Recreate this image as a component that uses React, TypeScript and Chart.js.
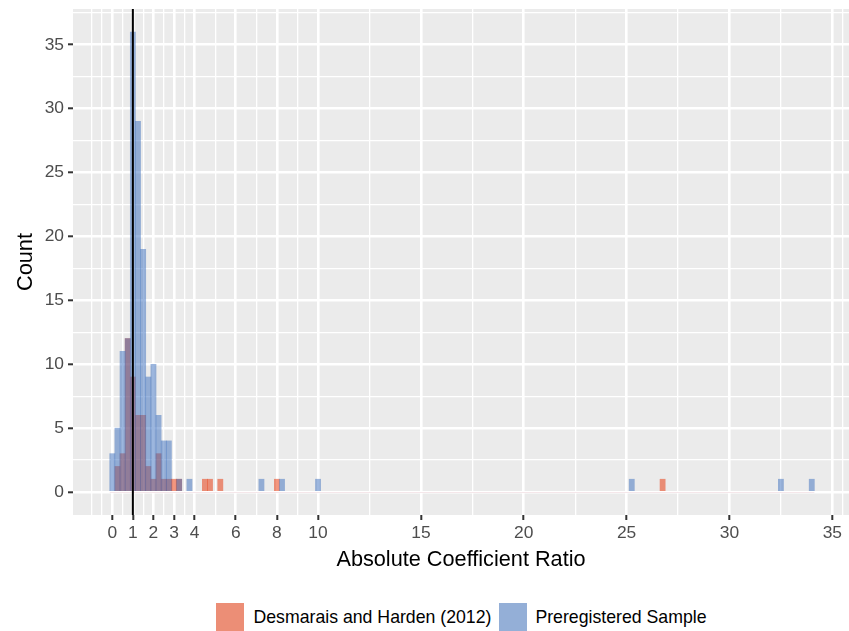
import React, { useEffect, useRef } from "react";
import { Chart, registerables } from "chart.js";

Chart.register(...registerables);

// ---------- data ----------
const BIN_WIDTH = 0.25;

const preregBinCenters = [0, 0.25, 0.5, 0.75, 1, 1.25, 1.5, 1.75, 2, 2.25, 2.5, 2.75, 3.25, 3.75, 7.25, 8.25, 10, 25.25, 32.5, 34];
const preregCounts = [3, 5, 11, 12, 36, 29, 19, 9, 10, 6, 4, 4, 1, 1, 1, 1, 1, 1, 1, 1];

const dhBinCenters = [0.25, 0.5, 0.75, 1, 1.25, 1.5, 1.75, 2, 2.25, 2.5, 2.75, 3, 3.25, 4.5, 4.75, 5.25, 8, 26.75];
const dhCounts = [2, 3, 12, 9, 6, 6, 2, 1, 3, 1, 1, 1, 1, 1, 1, 1, 1, 1];

const xMajorTicks = [0, 1, 2, 3, 4, 6, 8, 10, 15, 20, 25, 30, 35];
const xMinorTicks = [-1, -0.5, 0.5, 1.5, 2.5, 3.5, 5, 7, 9, 12.5, 17.5, 22.5, 27.5, 32.5, 35.5];
const yMajorTicks = [0, 5, 10, 15, 20, 25, 30, 35];
const yMinorTicks = [2.5, 7.5, 12.5, 17.5, 22.5, 27.5, 32.5, 37.5];

const REFERENCE_LINE_X = 1;
const X_LIMITS = [-1.91, 35.81];
const Y_LIMITS = [-1.8, 37.8];

const seriesLabels = ["Desmarais and Harden (2012)", "Preregistered Sample"];
const xTitle = "Absolute Coefficient Ratio";
const yTitle = "Count";

// ---------- styles ----------
const FONT = "'Liberation Sans', Arial, Helvetica, sans-serif";
const DH_FILL = "rgba(232,45,0,0.5)";
const PREREG_FILL = "rgba(57,109,189,0.5)";
const DH_KEY = "#EC8E76";
const PREREG_KEY = "#94AFD7";
const PANEL_BG = "#EBEBEB";

const xMajorSet = new Set(xMajorTicks);
const yMajorSet = new Set(yMajorTicks);

const panelBg = {
  id: "panelBg",
  beforeDraw(chart: any) {
    const { ctx, chartArea } = chart;
    ctx.save();
    ctx.fillStyle = PANEL_BG;
    ctx.fillRect(chartArea.left, chartArea.top, chartArea.right - chartArea.left, chartArea.bottom - chartArea.top);
    ctx.restore();
  },
};

const overlays = {
  id: "overlays",
  afterDatasetsDraw(chart: any) {
    const { ctx, chartArea, scales } = chart;
    const xs = scales.x;
    const ys = scales.y;
    ctx.save();
    ctx.beginPath();
    ctx.rect(chartArea.left, chartArea.top, chartArea.right - chartArea.left, chartArea.bottom - chartArea.top);
    ctx.clip();
    // faint zero-height bins baseline
    const allCenters = [...preregBinCenters, ...dhBinCenters];
    const lo = Math.min(...allCenters) - BIN_WIDTH / 2;
    const hi = Math.max(...allCenters) + BIN_WIDTH / 2;
    const y0 = ys.getPixelForValue(0);
    ctx.strokeStyle = "rgba(200,120,140,0.18)";
    ctx.lineWidth = 1;
    ctx.beginPath();
    ctx.moveTo(xs.getPixelForValue(lo), Math.round(y0) + 0.5);
    ctx.lineTo(xs.getPixelForValue(hi), Math.round(y0) + 0.5);
    ctx.stroke();
    // reference line
    const xp = xs.getPixelForValue(REFERENCE_LINE_X);
    ctx.strokeStyle = "#000000";
    ctx.lineWidth = 2;
    ctx.beginPath();
    ctx.moveTo(xp, chartArea.top);
    ctx.lineTo(xp, chartArea.bottom);
    ctx.stroke();
    ctx.restore();
  },
};

export default function App() {
  const ref = useRef<HTMLCanvasElement>(null);

  useEffect(() => {
    const canvas = ref.current;
    if (!canvas) return;
    const tickFont = { family: FONT, size: 17.4 };
    const titleFont = { family: FONT, size: 21.7 };

    const chart = new Chart(canvas, {
      type: "bar",
      data: {
        datasets: [
          {
            label: seriesLabels[1],
            data: preregBinCenters.map((c, i) => ({ x: c, y: preregCounts[i] })),
            backgroundColor: PREREG_FILL,
            borderWidth: 0,
            grouped: false,
            barPercentage: 1,
            categoryPercentage: 1,
            order: 0,
          } as any,
          {
            label: seriesLabels[0],
            data: dhBinCenters.map((c, i) => ({ x: c, y: dhCounts[i] })),
            backgroundColor: DH_FILL,
            borderWidth: 0,
            grouped: false,
            barPercentage: 1,
            categoryPercentage: 1,
            order: 1,
          } as any,
        ],
      },
      options: {
        animation: false,
        responsive: false,
        maintainAspectRatio: false,
        layout: { padding: { top: 9, right: 0, left: 0, bottom: 0 } },
        plugins: {
          legend: { display: false },
          tooltip: { enabled: false },
        },
        scales: {
          x: {
            type: "linear",
            min: X_LIMITS[0],
            max: X_LIMITS[1],
            offset: false,
            afterBuildTicks: (s: any) => {
              s.ticks = [...xMajorTicks, ...xMinorTicks].sort((a, b) => a - b).map((v) => ({ value: v }));
            },
            afterFit: (s: any) => {
              s.height = 70;
              s.paddingLeft = 0;
              s.paddingRight = 0;
            },
            ticks: {
              autoSkip: false,
              maxRotation: 0,
              minRotation: 0,
              padding: 3,
              color: "#4D4D4D",
              font: tickFont,
              callback: (v: any) => (xMajorSet.has(Number(v)) ? String(v) : ""),
            },
            grid: {
              offset: false,
              color: "#FFFFFF",
              lineWidth: (ctx: any) => (ctx.tick && xMajorSet.has(ctx.tick.value) ? 2.6 : 1.3),
              drawTicks: true,
              tickLength: 5,
              tickColor: (ctx: any) => (ctx.tick && xMajorSet.has(ctx.tick.value) ? "#333333" : "rgba(0,0,0,0)"),
              tickWidth: 2,
            },
            border: { display: false },
            title: {
              display: true,
              text: xTitle,
              color: "#000000",
              font: titleFont,
              padding: { top: 0, bottom: 12 },
            },
          } as any,
          y: {
            type: "linear",
            min: Y_LIMITS[0],
            max: Y_LIMITS[1],
            afterBuildTicks: (s: any) => {
              s.ticks = [...yMajorTicks, ...yMinorTicks].sort((a, b) => a - b).map((v) => ({ value: v }));
            },
            afterFit: (s: any) => {
              s.width = 73;
              s.paddingTop = 0;
              s.paddingBottom = 0;
            },
            ticks: {
              autoSkip: false,
              padding: 4,
              color: "#4D4D4D",
              font: tickFont,
              callback: (v: any) => (yMajorSet.has(Number(v)) ? String(v) : ""),
            },
            grid: {
              color: "#FFFFFF",
              lineWidth: (ctx: any) => (ctx.tick && yMajorSet.has(ctx.tick.value) ? 2.6 : 1.3),
              drawTicks: true,
              tickLength: 5,
              tickColor: (ctx: any) => (ctx.tick && yMajorSet.has(ctx.tick.value) ? "#333333" : "rgba(0,0,0,0)"),
              tickWidth: 2,
            },
            border: { display: false },
            title: {
              display: true,
              text: yTitle,
              color: "#000000",
              font: titleFont,
              padding: { top: 13, bottom: 0 },
            },
          } as any,
        },
      },
      plugins: [panelBg, overlays],
    });
    return () => chart.destroy();
  }, []);

  const keyStyle = (color: string): React.CSSProperties => ({
    width: 28,
    height: 28,
    background: color,
    flex: "0 0 auto",
  });
  const textStyle: React.CSSProperties = {
    fontFamily: FONT,
    fontSize: 17.7,
    color: "#000",
    marginLeft: 10,
    whiteSpace: "nowrap",
    lineHeight: "28px",
  };

  return (
    <div style={{ position: "absolute", left: 0, top: 0, width: 849, height: 631, background: "#FFFFFF", overflow: "hidden" }}>
      <canvas ref={ref} width={849} height={585} style={{ display: "block", width: 849, height: 585 }} />
      <div
        style={{
          position: "absolute",
          top: 603,
          left: 73,
          width: 776,
          height: 28,
          display: "flex",
          justifyContent: "center",
          alignItems: "center",
        }}
      >
        <div style={keyStyle(DH_KEY)} />
        <span style={textStyle}>{seriesLabels[0]}</span>
        <div style={{ ...keyStyle(PREREG_KEY), marginLeft: 8 }} />
        <span style={{ ...textStyle, marginLeft: 8 }}>{seriesLabels[1]}</span>
      </div>
    </div>
  );
}
